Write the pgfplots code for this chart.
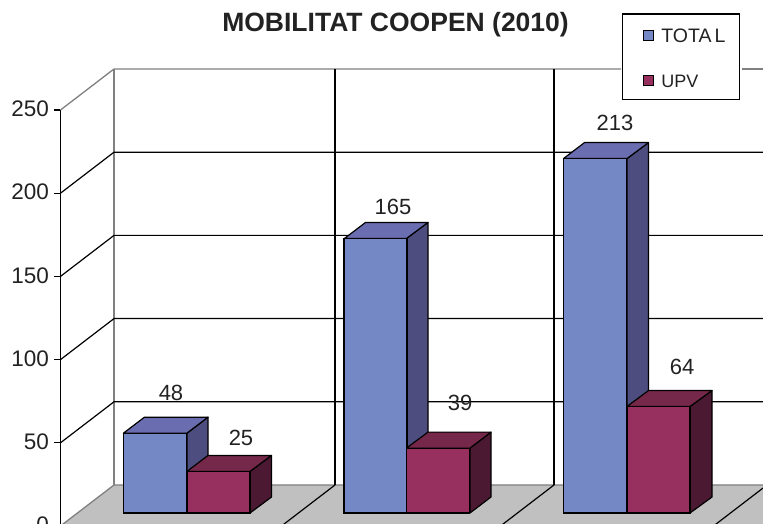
\documentclass[border=0pt]{standalone}
\usepackage{fontspec}
\setmainfont{Liberation Sans}
\usepackage{pgfplots}
\pgfplotsset{compat=1.18}

\definecolor{bluefront}{HTML}{7388C4}
\definecolor{blueside}{HTML}{4D4D80}
\definecolor{bluetop}{HTML}{6A6DB0}
\definecolor{redfront}{HTML}{97305F}
\definecolor{redside}{HTML}{4C1933}
\definecolor{redtop}{HTML}{752849}
\definecolor{floorgray}{HTML}{C0C0C0}
\definecolor{wallgray}{HTML}{808080}
\definecolor{txt}{HTML}{222222}

% faces of the 3d bars, shifted up to the plane of the bars
\pgfplotsset{
  face/.style={draw=black, line width=1.2pt, line join=round, mark=none, forget plot, yshift=13pt},
  grid3d/.style={draw=black, line width=1.2pt, mark=none, forget plot},
  gray3d/.style={draw=wallgray, line width=1.3pt, mark=none, forget plot},
  front/.style={ybar, bar width=63pt, bar shift=0pt, draw=black, line width=1.2pt, yshift=13pt},
}
\newcommand{\lab}[3]{\node[text=txt, font=\fontsize{22}{24}\selectfont] at (axis cs:#1,#2) {#3};}

\begin{document}
\begin{tikzpicture}
\begin{axis}[
    at={(60.5pt,-2pt)}, anchor=south west,
    scale only axis, width=702.5pt, height=416pt,
    xmin=60.5, xmax=763, ymin=0, ymax=250,
    clip=false,
    axis x line=none, axis y line=left,
    axis line style={-, black, line width=1.2pt},
    ytick={0,50,100,150,200,250},
    tick align=outside, tick style={black, line width=1.2pt},
    major tick length=6pt,
    /pgf/number format/assume math mode=true,
    yticklabel style={text=txt, font=\fontsize{22.5}{24}\selectfont, xshift=-2pt, yshift=1pt},
    title={\textbf{MOBILITAT COOPEN (2010)}},
    title style={at={(0.4769,1.19)}, anchor=center, text=txt, font=\fontsize{26.5}{28}\selectfont},
    legend style={at={(axis cs:621.5,308)}, anchor=north west, draw=black, line width=1.2pt, fill=white,
        font=\fontsize{19.5}{21}\selectfont, text=txt, inner xsep=12pt, inner ysep=9pt,
        row sep=22pt},
    legend cell align=left,
    legend image code/.code={\path (0pt,0pt) (24pt,0pt);
        \draw[#1, line width=1pt] (8.5pt,-17pt) rectangle (18.5pt,-7pt);},
]
% floor
\addplot[fill=floorgray, draw=none, mark=none, forget plot] coordinates {(60.5,0)(114,24.64)(763,24.64)(763,0)} -- cycle;
\addplot[gray3d] coordinates {(60.5,0)(114,24.64)(763,24.64)};
% back wall
\addplot[gray3d] coordinates {(114,24.64)(114,274.64)};
\addplot[gray3d] coordinates {(60.5,250)(114,274.64)(621,274.64)};
\addplot[gray3d] coordinates {(741.5,274.64)(763,274.64)};
\addplot[grid3d] coordinates {(60.5,200)(114,224.64)(763,224.64)};
\addplot[grid3d] coordinates {(60.5,150)(114,174.64)(763,174.64)};
\addplot[grid3d] coordinates {(60.5,100)(114,124.64)(763,124.64)};
\addplot[grid3d] coordinates {(60.5,50)(114,74.64)(763,74.64)};
\addplot[grid3d] coordinates {(335,24.64)(335,274.64)};
\addplot[grid3d] coordinates {(554,24.64)(554,274.64)};
\addplot[grid3d] coordinates {(281.5,0)(335,24.64)};
\addplot[grid3d] coordinates {(500.5,0)(554,24.64)};
\addplot[grid3d] coordinates {(713.5,0)(763,22.8)};
% blue sides and tops
\addplot[face, fill=blueside] coordinates {(187,0)(208,9.6)(208,57.6)(187,48)} -- cycle;
\addplot[face, fill=bluetop] coordinates {(123.5,48)(144.5,57.6)(208,57.6)(187,48)} -- cycle;
\addplot[face, fill=blueside] coordinates {(406.5,0)(428,9.6)(428,174.6)(406.5,165)} -- cycle;
\addplot[face, fill=bluetop] coordinates {(344.5,165)(365.5,174.6)(428,174.6)(406.5,165)} -- cycle;
\addplot[face, fill=blueside] coordinates {(627,0)(648.5,9.6)(648.5,222.6)(627,213)} -- cycle;
\addplot[face, fill=bluetop] coordinates {(563.5,213)(584.5,222.6)(648.5,222.6)(627,213)} -- cycle;
% blue fronts
\addplot[front, fill=bluefront] coordinates {(155.25,48)(375.5,165)(595.25,213)};
\addlegendentry{TOTA\kern3pt L}
% red sides and tops
\addplot[face, fill=redside] coordinates {(250,0)(271.5,9.6)(271.5,34.6)(250,25)} -- cycle;
\addplot[face, fill=redtop] coordinates {(187,25)(208,34.6)(271.5,34.6)(250,25)} -- cycle;
\addplot[face, fill=redside] coordinates {(470,0)(491,9.6)(491,48.6)(470,39)} -- cycle;
\addplot[face, fill=redtop] coordinates {(406.5,39)(428,48.6)(491,48.6)(470,39)} -- cycle;
\addplot[face, fill=redside] coordinates {(690,0)(712,9.6)(712,73.6)(690,64)} -- cycle;
\addplot[face, fill=redtop] coordinates {(627,64)(648.5,73.6)(712,73.6)(690,64)} -- cycle;
% red fronts
\addplot[front, fill=redfront] coordinates {(218.5,25)(438.25,39)(658.5,64)};
\addlegendentry{{\fontsize{18}{21}\selectfont UPV\rule[-22pt]{0pt}{1pt}}}
% value labels
\lab{171}{79.9}{48}
\lab{241}{52.9}{25}
\lab{393}{191.7}{165}
\lab{460}{73.9}{39}
\lab{615}{242.2}{213}
\lab{682}{95.6}{64}
\end{axis}
\pgfresetboundingbox
\path[use as bounding box] (0,0) rectangle (763pt,524pt);
\end{tikzpicture}
\end{document}
